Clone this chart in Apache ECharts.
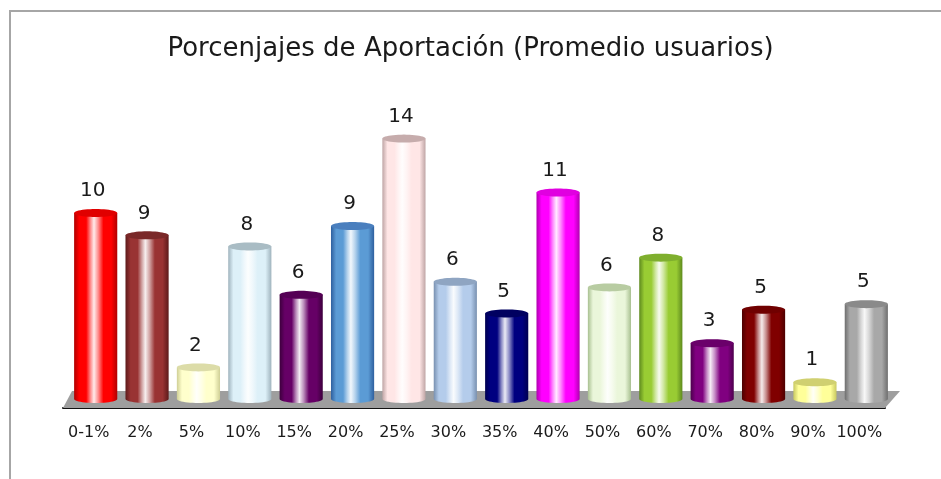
<!DOCTYPE html>
<html>
<head>
<meta charset="utf-8">
<script src="https://cdn.jsdelivr.net/npm/echarts@6/dist/echarts.min.js"></script>
<style>
html,body{margin:0;padding:0;background:#fff;}
#chart{width:941px;height:479px;}
</style>
</head>
<body>
<div id="chart"></div>
<script>
// ---- data ----
const titleText = 'Porcenjajes de Aportación (Promedio usuarios)';
const categories = ['0-1%','2%','5%','10%','15%','20%','25%','30%','35%','40%','50%','60%','70%','80%','90%','100%'];
const values = [10.0, 8.8, 1.7, 8.2, 5.6, 9.3, 14.0, 6.3, 4.6, 11.1, 6.0, 7.6, 3.0, 4.8, 0.9, 5.1];

// ---- styles ----
const baseColors = ['#FF0000','#993333','#FFFFCC','#DDF0F8','#660066','#5B9BD5','#FFE6E6','#B4CCEB','#000080','#FF00FF','#EAF6DA','#99CC33','#800080','#800000','#FFFF99','#A8A8A8'];
const darkColors = ['#B00000','#5C1A1A','#CFCF95','#9FB3BD','#3D003D','#2E5F9E','#BFA5A5','#7890B0','#000050','#B000B0','#A8C090','#5E8A1E','#4D004D','#4D0000','#C8C860','#6E6E6E'];
const capColors  = ['#E00000','#7A2828','#DCDCA8','#A9BCC4','#550055','#4A7FBE','#C6ACAC','#8FA5C2','#000060','#E000E0','#B8CCA2','#7FAF2E','#6A006A','#700000','#D0D070','#8A8A8A'];

function hex2rgb(h){h=h.replace('#','');return [parseInt(h.substr(0,2),16),parseInt(h.substr(2,2),16),parseInt(h.substr(4,2),16)];}
function mix(a,b,t){const A=hex2rgb(a),B=hex2rgb(b);return 'rgb('+A.map((v,i)=>Math.round(v+(B[i]-v)*t)).join(',')+')';}

const FONT = '"DejaVu Sans", "Open Sans", sans-serif';
const DX = 7, DY = 9; // depth offset of cylinders

const chart = echarts.init(document.getElementById('chart'), null, {renderer:'canvas'});

function cylinder(params, api){
  const i = api.value(0), v = api.value(1);
  const b = api.coord([i, 0]);
  const t = api.coord([i, v]);
  const band = api.size([1, 0])[0];
  const w = band * 0.84, rx = w / 2, ry = 4;
  const cx = b[0] + DX, by = b[1] - DY, ty = t[1] - DY;
  const N = 24;
  const body = [[cx - rx, ty], [cx - rx, by]];
  for (let k = 1; k < N; k++) {
    const a = Math.PI - Math.PI * k / N;
    body.push([cx + rx * Math.cos(a), by + ry * Math.sin(a)]);
  }
  body.push([cx + rx, by], [cx + rx, ty]);
  const cap = [];
  for (let k = 0; k < 2 * N; k++) {
    const a = 2 * Math.PI * k / (2 * N);
    cap.push([cx + rx * Math.cos(a), ty + ry * Math.sin(a)]);
  }
  const c = baseColors[i], d = darkColors[i];
  const grad = new echarts.graphic.LinearGradient(0, 0, 1, 0, [
    {offset: 0, color: d},
    {offset: 0.12, color: c},
    {offset: 0.28, color: c},
    {offset: 0.38, color: mix(c, '#FFFFFF', 0.55)},
    {offset: 0.46, color: mix(c, '#FFFFFF', 0.92)},
    {offset: 0.56, color: mix(c, '#FFFFFF', 0.55)},
    {offset: 0.68, color: c},
    {offset: 0.86, color: c},
    {offset: 1, color: d}
  ]);
  return {
    type: 'group',
    children: [
      {type: 'polygon', shape: {points: body}, style: {fill: grad}},
      {type: 'polygon', shape: {points: cap}, style: {fill: capColors[i]}},
      {type: 'text', style: {text: String(Math.round(v)), x: cx - 3, y: ty - 22, textAlign: 'center', textVerticalAlign: 'middle', fontSize: 20, fontFamily: FONT, fill: '#1a1a1a'}}
    ]
  };
}

function floor(params, api){
  const cs = params.coordSys;
  const x0 = cs.x, x1 = cs.x + cs.width, y0 = cs.y + cs.height;
  return {
    type: 'polygon',
    shape: {points: [[x0, y0], [x1, y0], [x1 + 15, y0 - 17], [x0 + 9, y0 - 17]]},
    style: {fill: '#9E9E9E'}
  };
}

chart.setOption({
  animation: false,
  backgroundColor: '#fff',
  title: {
    text: titleText, left: 'center', top: 31,
    textStyle: {fontSize: 26, fontWeight: 'normal', fontFamily: FONT, color: '#1a1a1a'}
  },
  graphic: [
    {type: 'polyline', shape: {points: [[10, 479], [10, 11], [941, 11]]}, style: {stroke: '#A6A6A6', lineWidth: 2, fill: null}}
  ],
  grid: {left: 63, right: 56, top: 129, bottom: 71},
  xAxis: {
    type: 'category', data: categories,
    axisLine: {lineStyle: {color: '#111', width: 2}},
    axisTick: {length: 5, lineStyle: {color: '#111', width: 1}},
    axisLabel: {fontSize: 16, fontFamily: FONT, color: '#1a1a1a', margin: 17, interval: 0}
  },
  yAxis: {type: 'value', min: 0, max: 15, show: false, splitLine: {show: false}},
  series: [
    {type: 'custom', renderItem: floor, data: [[0, 0]], z: 1, silent: true},
    {type: 'custom', renderItem: cylinder, data: values.map((v, i) => [i, v]), encode: {x: 0, y: 1}, z: 2}
  ]
});
</script>
</body>
</html>
